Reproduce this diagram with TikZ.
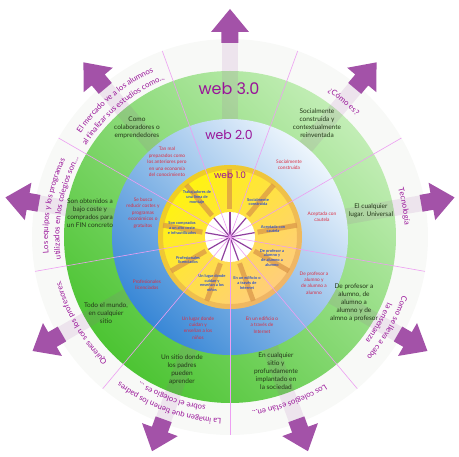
\documentclass[tikz,border=0pt]{standalone}
\usepackage{fontspec}
\setmainfont{Lato}
\newfontfamily\webfont{Poppins}
\usepackage{tikz}
\usetikzlibrary{decorations.text}
\definecolor{ringouter}{rgb}{0.972,0.976,0.968}
\definecolor{greenlight}{rgb}{0.76,0.93,0.71}
\definecolor{greendark}{rgb}{0.30,0.77,0.20}
\definecolor{bluelight}{rgb}{0.93,0.96,0.99}
\definecolor{bluedark}{rgb}{0.22,0.53,0.84}
\definecolor{yellowlight}{rgb}{1.00,0.96,0.05}
\definecolor{yellowdark}{rgb}{1.00,0.80,0.50}
\definecolor{rimorange}{rgb}{0.85,0.58,0.28}
\definecolor{arrowpurple}{rgb}{0.64,0.32,0.66}
\definecolor{webpurple}{rgb}{0.60,0.08,0.60}
\definecolor{splitpink}{rgb}{0.93,0.62,0.95}
\definecolor{spokepurple}{rgb}{0.56,0.25,0.62}
\definecolor{greentext}{rgb}{0.14,0.22,0.10}
\definecolor{bluetext}{rgb}{0.86,0.18,0.26}
\definecolor{yellowtext}{rgb}{0.18,0.32,0.80}
\tikzstyle{webthree}=[text=greentext, align=center, font=\fontsize{6.5}{8}\selectfont, inner sep=0pt]
\tikzstyle{webtwo}=[text=bluetext, align=center, font=\fontsize{4.8}{6.4}\selectfont, inner sep=0pt]
\tikzstyle{webone}=[text=yellowtext, align=center, font=\bfseries\fontsize{4}{4.9}\selectfont, inner sep=0pt]
\tikzstyle{webtitle}=[text=webpurple, inner sep=0pt]
\tikzstyle{splitline}=[splitpink, line width=0.6pt]
\newcommand{\questionfont}{\fontsize{7.8}{9}\selectfont}
\newcommand{\webthree}[3]{
	\node[webthree] (#1) at (#2) {#3};}
\newcommand{\webtwo}[3]{
	\node[webtwo] (#1) at (#2) {#3};}
\newcommand{\webone}[3]{
	\node[webone] (#1) at (#2) {#3};}
\newcommand{\questionarrow}[1]{
	\fill[arrowpurple, opacity=0.12, rotate=#1] (118,-8) rectangle (196,8);
	\fill[rimorange, opacity=0.7, rotate=#1] (28,-2.5) rectangle (68,2.5);
	\draw[spokepurple, line width=1.2pt] (hub) -- (#1:25pt);
	\fill[arrowpurple, rotate=#1] (194,-8.5) -- (205,-8.5) -- (205,-19) -- (228,0) -- (205,19) -- (205,8.5) -- (194,8.5) -- cycle;}
\newcommand{\questionlabel}[3]{
	\path[decorate, decoration={text along path, text align=center, text={|\questionfont\color{webpurple}|#3}}]
		(#1+50:#2pt) arc[start angle=#1+50, end angle=#1-50, radius=#2pt];}

\begin{document}
\begin{tikzpicture}[x=1pt, y=1pt]
	\useasboundingbox (-230,-220) rectangle (229,237);
	\coordinate (hub) at (0,0);

	% rings
	\fill[ringouter] (hub) circle (198pt);
	\shade[top color=greenlight, bottom color=greendark, shading angle=-45] (hub) circle (166pt);
	\shade[top color=bluelight, bottom color=bluedark, shading angle=-45] (hub) circle (118pt);
	\shade[top color=yellowlight, bottom color=yellowdark, shading angle=45] (hub) circle (72pt);
	\draw[rimorange, line width=5pt, opacity=0.4] (hub) circle (69.5pt);
	\fill[white] (hub) circle (25pt);

	% arrows
	\questionarrow{90}
	\questionarrow{50}
	\questionarrow{10}
	\questionarrow{-30}
	\questionarrow{-70}
	\questionarrow{-110}
	\questionarrow{-150}
	\questionarrow{170}
	\questionarrow{130}

	% sector lines
	\draw[splitline] (hub) -- (70:198pt);
	\draw[splitline] (hub) -- (30:198pt);
	\draw[splitline] (hub) -- (-10:198pt);
	\draw[splitline] (hub) -- (-50:198pt);
	\draw[splitline] (hub) -- (-90:198pt);
	\draw[splitline] (hub) -- (-130:198pt);
	\draw[splitline] (hub) -- (-170:198pt);
	\draw[splitline] (hub) -- (150:198pt);
	\draw[splitline] (hub) -- (110:198pt);

	% titles
	\node[webtitle, font=\webfont\fontsize{16}{16}\selectfont] (title3) at (-1,148) {web 3.0};
	\node[webtitle, font=\webfont\fontsize{12.5}{12.5}\selectfont] (title2) at (-1,102) {web 2.0};
	\node[webtitle, font=\webfont\fontsize{9}{9}\selectfont] (title1) at (0,62) {web 1.0};

	% questions
	\questionlabel{130}{182}{El mercado ve a los alumnos}
	\questionlabel{130}{170.5}{al finalizar sus estudios como...}
	\questionlabel{50}{175}{¿Cómo es?}
	\questionlabel{10}{175}{Tecnología}
	\questionlabel{-30}{182}{Como se lleva a cabo}
	\questionlabel{-30}{170.5}{la enseñanza}
	\questionlabel{-70}{175}{Los colegios están en...}
	\questionlabel{-110}{182}{La imagen que tienen los padres}
	\questionlabel{-110}{170.5}{sobre el colegio es ...}
	\questionlabel{-150}{175}{Quienes son los profesores.}
	\questionlabel{170}{182}{Los equipos y los programas}
	\questionlabel{170}{170.5}{utilizados en los colegios son...}

	% web 3.0
	\webthree{mercado3}{-93,109}{Como\\colaboradores o\\emprendedores}
	\webthree{equipos3}{-140,24}{Son obtenidos a\\bajo coste y\\comprados para\\un FIN concreto}
	\webthree{profesores3}{-124,-76}{Todo el mundo,\\en cualquier\\sitio}
	\webthree{imagen3}{-48,-133}{Un sitio donde\\los padres\\pueden\\aprender}
	\webthree{colegios3}{46,-134}{En cualquier\\sitio y\\profundamente\\implantado en\\la sociedad}
	\webthree{ensenanza3}{124,-66}{De profesor a\\alumno, de\\alumno a\\alumno y de\\almno a profesor}
	\webthree{tecnologia3}{141,26}{El cualquier\\lugar. Universal}
	\webthree{como3}{87,114}{Socialmente\\construida y\\contextualmente\\reinventada}

	% web 2.0
	\webtwo{mercado2}{-63,75}{Tan mal\\preparados como\\los anteriores pero\\en una economía\\del conocimiento}
	\webtwo{equipos2}{-87,24}{Se busca\\reducir costes y\\programas\\económicos o\\gratuitos}
	\webtwo{profesores2}{-83,-48}{Profesionales\\licenciados}
	\webtwo{imagen2}{-32,-91}{Un lugar donde\\cuidan y\\enseñan a los\\niños}
	\webtwo{colegios2}{32,-88}{En un edificio o\\a través de\\Internet}
	\webtwo{ensenanza2}{84,-46}{De profesor a\\alumno y\\de alumno a\\alumno}
	\webtwo{tecnologia2}{92,20}{Aceptada con\\cautela}
	\webtwo{como2}{59,72}{Socialmente\\construida}

	% web 1.0
	\webone{mercado1}{-33,40}{Trabajadores de\\una línea de\\montaje}
	\webone{equipos1}{-48,9}{Son comprados\\a un alto coste\\e infrautilizados}
	\webone{profesores1}{-42,-23}{Profesionales\\licenciados}
	\webone{imagen1}{-18,-46}{Un lugar donde\\cuidan y\\enseñan a los\\niños}
	\webone{colegios1}{17,-46}{En un edificio o\\a través de\\Internet}
	\webone{ensenanza1}{42,-21}{De profesor a\\alumno y\\de alumno a\\alumno}
	\webone{tecnologia1}{43,8}{Aceptada con\\cautela}
	\webone{como1}{28,35}{Socialmente\\construida}
\end{tikzpicture}
\end{document}
